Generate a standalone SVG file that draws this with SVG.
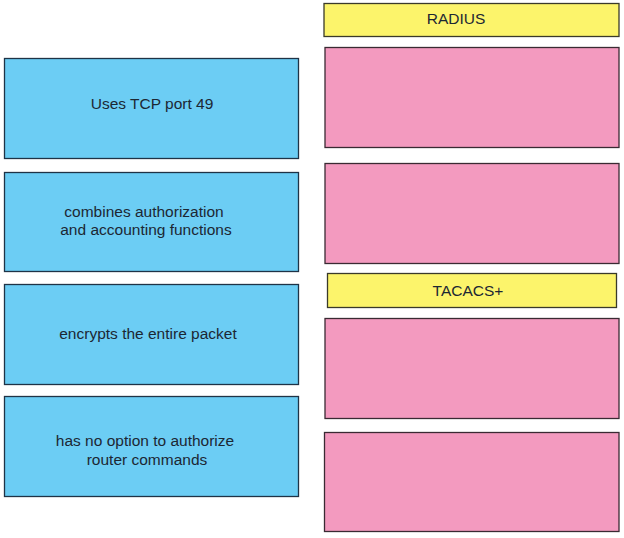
<svg xmlns="http://www.w3.org/2000/svg" width="624" height="538" viewBox="0 0 624 538">
<style>
.blue{fill:#6ccdf4;stroke:#1f3346;stroke-width:1.3}
.pink{fill:#f39abf;stroke:#3a2a33;stroke-width:1.3}
.yel{fill:#fcf46b;stroke:#3a3a2a;stroke-width:1.3}
text{font-family:"Liberation Sans",Arial,sans-serif;font-size:15.5px;fill:#1c2733;text-anchor:middle}
</style>
<rect width="624" height="538" fill="#ffffff"/>
<g id="uses-tcp"><rect class="blue" x="4.5" y="58.5" width="294" height="100"/><text x="152" y="109">Uses TCP port 49</text></g>
<g id="combines"><rect class="blue" x="4.5" y="172.5" width="294" height="99"/><text x="144" y="217">combines authorization</text><text x="146" y="235">and accounting functions</text></g>
<g id="encrypts"><rect class="blue" x="4.5" y="284.5" width="294" height="100"/><text x="148" y="339">encrypts the entire packet</text></g>
<g id="no-option"><rect class="blue" x="4.5" y="396.5" width="294" height="100"/><text x="145" y="446">has no option to authorize</text><text x="147" y="465">router commands</text></g>
<g id="radius"><rect class="yel" x="324" y="3.5" width="295" height="33"/><text x="456" y="24">RADIUS</text></g>
<g id="radius-slot1"><rect class="pink" x="325" y="47.5" width="294" height="100"/></g>
<g id="radius-slot2"><rect class="pink" x="325" y="163.5" width="294" height="100"/></g>
<g id="tacacs"><rect class="yel" x="327.5" y="273.5" width="289" height="34"/><text x="468" y="296">TACACS+</text></g>
<g id="tacacs-slot1"><rect class="pink" x="325" y="318.5" width="294" height="100"/></g>
<g id="tacacs-slot2"><rect class="pink" x="324.5" y="432.5" width="294.5" height="99"/></g>
<g id="connectors"></g>
</svg>
